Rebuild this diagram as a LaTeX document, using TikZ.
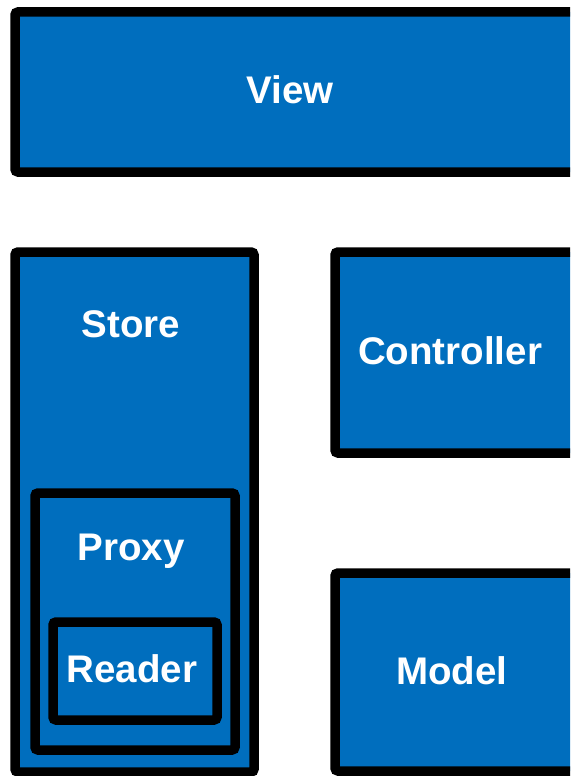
\documentclass[tikz,border=0pt]{standalone}
\usepackage{fontspec}
\setmainfont{Liberation Sans}
\definecolor{boxblue}{HTML}{006EBE}
\begin{document}
\begin{tikzpicture}[x=1pt,y=-1pt,
  blockbox/.style={draw=black, fill=boxblue, line width=9.5pt, rounded corners=3pt,
    anchor=north west, inner sep=0pt, outer sep=0pt},
  caption/.style={text=white, font=\bfseries\fontsize{38.5}{40}\selectfont,
    inner sep=0pt, anchor=base}]
  \useasboundingbox (0,0) rectangle (570,776);
  \clip (0,0) rectangle (570,776);
  % outer boxes
  \node[blockbox, minimum width=560pt, minimum height=160pt] (view) at (15,12) {};
  \node[blockbox, minimum width=239pt, minimum height=520pt] (store) at (15,252) {};
  \node[blockbox, minimum width=240pt, minimum height=201pt] (controller) at (335,252) {};
  \node[blockbox, minimum width=240pt, minimum height=198pt] (model) at (335,573) {};
  % nested boxes inside the store
  \node[blockbox, minimum width=200pt, minimum height=257pt] (proxy) at (35,493) {};
  \node[blockbox, minimum width=164pt, minimum height=98pt] (reader) at (53,622) {};
  % labels, placed on their baselines
  \node[caption] (viewlbl) at (290,103) {View};
  \node[caption] (storelbl) at (131,337) {Store};
  \node[caption] (controllerlbl) at (450,364) {Controller};
  \node[caption] (proxylbl) at (131,560) {Proxy};
  \node[caption] (readerlbl) at (132,682) {Reader};
  \node[caption] (modellbl) at (452,684) {Model};
\end{tikzpicture}
\end{document}
